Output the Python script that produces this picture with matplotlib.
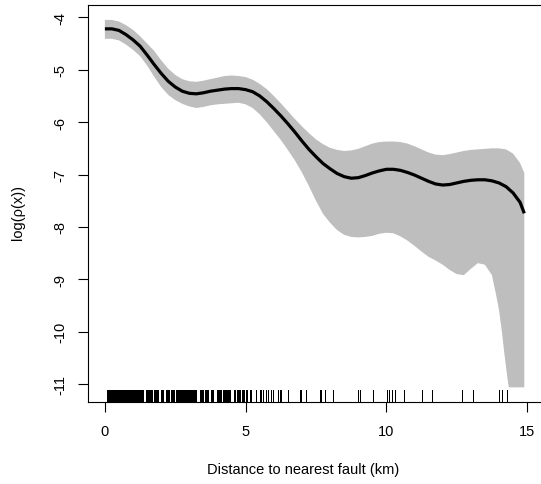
import matplotlib
matplotlib.use("Agg")
import matplotlib.pyplot as plt

plt.rcParams['font.family'] = ['Liberation Sans', 'DejaVu Sans']
plt.rcParams['axes.unicode_minus'] = False

# estimate curve
x_est = [0, 0.25, 0.5, 0.75, 1.0, 1.25, 1.5, 1.75, 2.0, 2.25, 2.5, 2.75, 3.0, 3.25, 3.5, 3.75,
         4.0, 4.25, 4.5, 4.75, 5.0, 5.25, 5.5, 5.75, 6.0, 6.25, 6.5, 6.75, 7.0, 7.25, 7.5, 7.75,
         8.0, 8.25, 8.5, 8.75, 9.0, 9.25, 9.5, 9.75, 10.0, 10.25, 10.5, 10.75, 11.0, 11.25, 11.5,
         11.75, 12.0, 12.25, 12.5, 12.75, 13.0, 13.25, 13.5, 13.75, 14.0, 14.25, 14.5, 14.75, 14.9]
y_est = [-4.22, -4.22, -4.25, -4.33, -4.43, -4.55, -4.72, -4.90, -5.07, -5.22, -5.33, -5.41,
         -5.45, -5.46, -5.44, -5.41, -5.39, -5.37, -5.36, -5.36, -5.38, -5.42, -5.50, -5.61,
         -5.74, -5.88, -6.03, -6.19, -6.36, -6.52, -6.66, -6.79, -6.89, -6.98, -7.04, -7.07,
         -7.06, -7.02, -6.97, -6.93, -6.90, -6.90, -6.92, -6.96, -7.01, -7.07, -7.13, -7.18,
         -7.20, -7.19, -7.16, -7.13, -7.11, -7.10, -7.10, -7.12, -7.16, -7.23, -7.35, -7.53, -7.74]

# upper confidence limit
y_hi = [-4.05, -4.05, -4.08, -4.15, -4.24, -4.36, -4.50, -4.64, -4.82, -4.98, -5.10, -5.18,
        -5.22, -5.23, -5.21, -5.18, -5.15, -5.12, -5.11, -5.12, -5.14, -5.19, -5.27, -5.37,
        -5.50, -5.64, -5.79, -5.94, -6.08, -6.21, -6.33, -6.42, -6.49, -6.53, -6.55, -6.54,
        -6.51, -6.46, -6.41, -6.38, -6.37, -6.37, -6.38, -6.41, -6.46, -6.52, -6.58, -6.62,
        -6.63, -6.61, -6.58, -6.55, -6.53, -6.52, -6.51, -6.50, -6.50, -6.52, -6.60, -6.78, -6.97]

# lower confidence limit
x_lo = [0, 0.25, 0.5, 0.75, 1.0, 1.25, 1.5, 1.75, 2.0, 2.25, 2.5, 2.75, 3.0, 3.25, 3.5, 3.75,
        4.0, 4.25, 4.5, 4.75, 5.0, 5.25, 5.5, 5.75, 6.0, 6.25, 6.5, 6.75, 7.0, 7.25, 7.5, 7.75,
        8.0, 8.25, 8.5, 8.75, 9.0, 9.25, 9.5, 9.75, 10.0, 10.25, 10.5, 10.75, 11.0, 11.25, 11.5,
        11.75, 12.0, 12.25, 12.5, 12.75, 13.0, 13.25, 13.5, 13.75, 13.9, 14.0, 14.1, 14.2, 14.3,
        14.35, 14.9]
y_lo = [-4.41, -4.41, -4.44, -4.52, -4.62, -4.74, -4.92, -5.13, -5.33, -5.48, -5.58, -5.65,
        -5.70, -5.73, -5.71, -5.68, -5.66, -5.65, -5.64, -5.63, -5.66, -5.73, -5.85, -6.00,
        -6.17, -6.34, -6.53, -6.73, -6.96, -7.22, -7.50, -7.75, -7.92, -8.06, -8.15, -8.19,
        -8.20, -8.19, -8.17, -8.13, -8.11, -8.12, -8.18, -8.26, -8.36, -8.47, -8.57, -8.64,
        -8.72, -8.82, -8.90, -8.92, -8.80, -8.69, -8.72, -8.92, -9.30, -9.58, -9.98, -10.45,
        -10.88, -11.06, -11.06]

# fault distances of observed points (rug)
rug_x = [0.06, 0.08, 0.10, 0.12, 0.14, 0.16, 0.18, 0.20, 0.22, 0.24, 0.26, 0.28, 0.30, 0.32,
         0.34, 0.36, 0.38, 0.40, 0.42, 0.44, 0.46, 0.48, 0.50, 0.52, 0.54, 0.56, 0.58, 0.60,
         0.62, 0.64, 0.66, 0.68, 0.70, 0.72, 0.74, 0.76, 0.78, 0.80, 0.82, 0.84, 0.86, 0.88,
         0.90, 0.92, 0.94, 0.96, 0.98, 1.00, 1.02, 1.04, 1.06, 1.08, 1.10, 1.12, 1.14, 1.16,
         1.18, 1.20, 1.22, 1.24, 1.26, 1.28, 1.30, 1.32, 1.34, 1.36,
         1.47, 1.49, 1.52, 1.54, 1.57, 1.59, 1.62, 1.64, 1.67, 1.76, 1.78, 1.81, 1.83, 1.86,
         1.88, 1.90, 2.00, 2.02, 2.05, 2.08, 2.18, 2.20, 2.23, 2.26, 2.36, 2.38, 2.41, 2.44,
         2.53, 2.55, 2.58, 2.61, 2.63, 2.66, 2.69, 2.72, 2.74,
         2.77, 2.80, 2.82, 2.85, 2.88, 2.90, 2.93, 2.96, 2.98, 3.01, 3.04, 3.06, 3.09, 3.12,
         3.14, 3.17, 3.20, 3.22, 3.25,
         3.38, 3.41, 3.44, 3.47, 3.50, 3.54, 3.58, 3.62, 3.65, 3.78, 3.81, 3.85, 3.98, 4.01,
         4.04, 4.07, 4.10, 4.14, 4.18, 4.22, 4.26, 4.30, 4.34, 4.38, 4.42, 4.46, 4.60, 4.64,
         4.68, 4.72, 4.76, 4.81, 4.86, 4.90, 4.93, 5.02, 5.06, 5.14, 5.17, 5.19,
         5.38, 5.50, 5.53, 5.61, 5.74, 5.79, 5.91, 5.97, 6.15, 6.21,
         6.27, 6.51, 6.92, 6.98, 7.16, 7.63, 7.69, 7.81, 8.11, 9.00, 9.06, 9.53, 10.03, 10.10,
         10.19, 10.31, 10.63, 11.26, 11.61, 12.68, 13.07, 13.99, 14.11, 14.29]

x_ticks = [0, 5, 10, 15]
y_ticks = [-11, -10, -9, -8, -7, -6, -5, -4]

W, H = 541, 485
fig = plt.figure(figsize=(W / 100, H / 100), dpi=100)
ax = fig.add_axes([88 / W, 1 - 403 / H, 456 / W, 397 / H])

poly_x = list(x_est) + list(reversed(x_lo))
poly_y = list(y_hi) + list(reversed(y_lo))
ax.fill(poly_x, poly_y, color='#BEBEBE', lw=0, zorder=1)
ax.plot(x_est, y_est, color='black', lw=2.3, zorder=3, solid_capstyle='butt')
ax.vlines(rug_x, 0, 0.03, transform=ax.get_xaxis_transform(), color='black', lw=0.5,
          antialiased=False, zorder=2)

ax.set_xlim(-0.6, 15.6)
ax.set_ylim(-11.34, -3.765)
ax.set_xticks(x_ticks)
ax.set_xticklabels([str(v) for v in x_ticks])
ax.set_yticks(y_ticks)
ax.set_yticklabels([str(v) for v in y_ticks])

for s in ax.spines.values():
    s.set_linewidth(0.8)
    s.set_color('black')
ax.tick_params(axis='both', direction='out', length=7.2, width=0.8, labelsize=10.5, colors='black')
ax.tick_params(axis='x', pad=9)
ax.tick_params(axis='y', labelrotation=90, pad=8)
for lbl in ax.get_yticklabels():
    lbl.set_va('center')

ax.set_xlabel('Distance to nearest fault (km)', fontsize=10.5)
ax.set_ylabel('log(ρ(x))', fontsize=10.5)
ax.xaxis.set_label_coords((303 - 88) / 456, -(470 - 403) / 397)
ax.yaxis.set_label_coords(-(88 - 18) / 456, (403 - 212) / 397)
ax.xaxis.label.set_va('center')
ax.yaxis.label.set_va('center')

fig.savefig('out.png', dpi=100)
